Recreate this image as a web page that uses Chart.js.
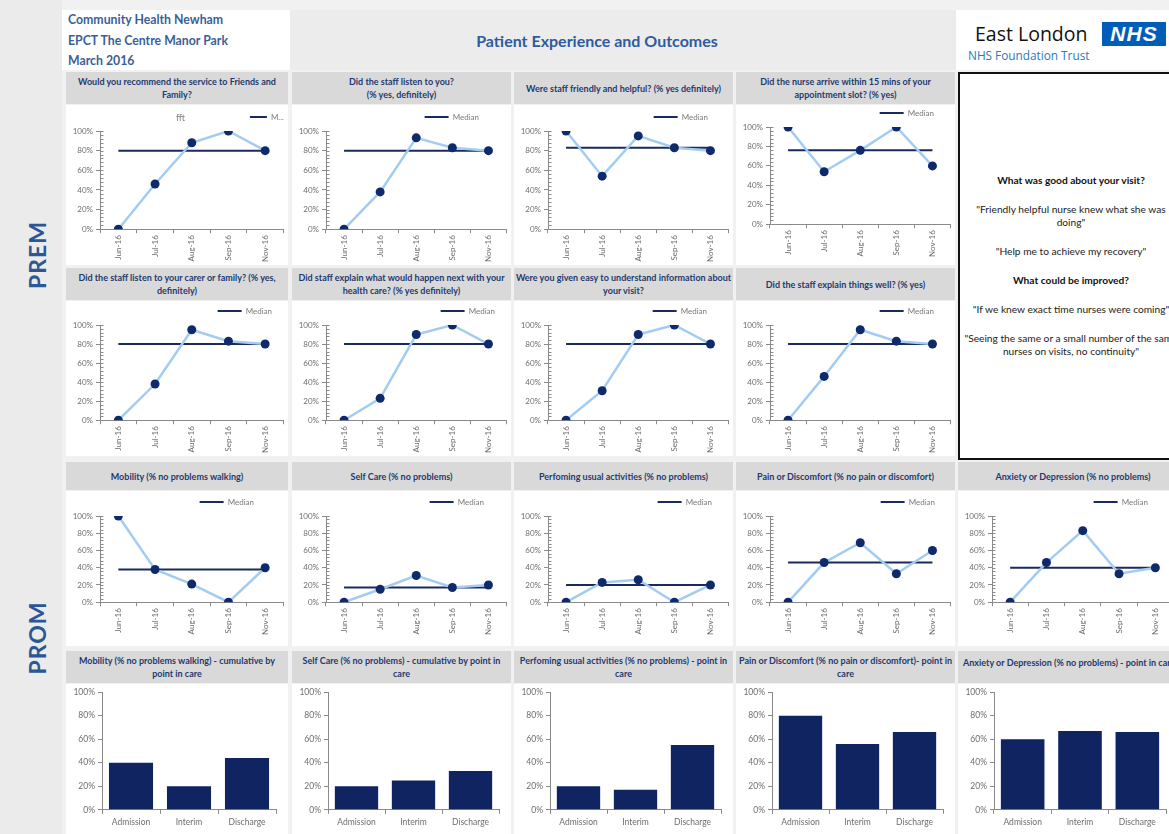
<!DOCTYPE html>
<html lang="en">
<head>
<meta charset="UTF-8">
<title>Patient Experience and Outcomes</title>
<script src="https://cdn.jsdelivr.net/npm/chart.js@4"></script>
<style>
    body {
        margin: 0;
        width: 1169px;
        height: 834px;
        overflow: hidden;
        position: relative;
        background: #f1f1f1;
        font-family: Lato, "Open Sans", sans-serif;
    }

    .abs { position: absolute; }

    .side {
        left: 0; top: 0; width: 62px; height: 834px;
        background: #ebebeb;
    }

    .side span {
        position: absolute;
        left: 37px;
        transform: translate(-50%, -50%) rotate(-90deg);
        color: #2b5797;
        font-weight: bold;
        font-size: 23px;
        letter-spacing: 1px;
    }

    .org {
        left: 62px; top: 10px; width: 228px; height: 60px;
        background: #fff;
        color: #3a5f98;
        font-weight: bold;
        font-size: 12.3px;
        line-height: 20.5px;
        padding-left: 6px;
        box-sizing: border-box;
    }

    .banner {
        left: 290px; top: 10px; width: 666px; height: 60px;
        background: #ececec;
        color: #2f5b9e;
        font-size: 16px;
        font-weight: bold;
        display: flex; align-items: center; justify-content: center;
        padding-right: 52px;
        box-sizing: border-box;
    }

    .logo {
        left: 956px; top: 10px; width: 213px; height: 60px;
        background: #fff;
    }

    .logo .name { position: absolute; left: 19px; top: 10px; font-size: 19.5px; color: #111; font-family: "Open Sans", sans-serif; }
    .logo .nhs {
        position: absolute; left: 146px; top: 12px; width: 64px; height: 24px;
        background: #005eb8; color: #fff;
        font: italic bold 21px "Liberation Sans", Arial, sans-serif;
        line-height: 24px; text-align: center; letter-spacing: 1px;
    }
    .logo .trust { position: absolute; left: 12px; top: 37px; font-size: 11.8px; color: #2a7ab8; font-family: "Open Sans", sans-serif; }

    .ttl {
        background: #d9d9d9;
        color: #1f3a6e;
        font-weight: bold;
        font-size: 9px;
        line-height: 13px;
        text-align: center;
        white-space: pre;
        display: flex; align-items: center; justify-content: center;
        overflow: hidden;
    }

    .plot { background: #fff; }

    .fft { color: #7f7f7f; font-size: 9px; }

    .notes {
        left: 958px; top: 72px; width: 226px; height: 388px;
        box-sizing: border-box;
        border: 2px solid #111;
        background: #fff;
        display: flex; flex-direction: column; justify-content: center; align-items: center;
        color: #222;
        font-size: 10.2px;
        line-height: 13px;
        text-align: center;
        white-space: pre;
    }
    .notes p { margin: 8px 0; }
    .notes b { color: #111; }
</style>
</head>
<body>

<div class="abs side"><span style="top:255px">PREM</span><span style="top:638px">PROM</span></div>

<div class="abs org">Community Health Newham<br>EPCT The Centre Manor Park<br>March 2016</div>
<div class="abs banner">Patient Experience and Outcomes</div>
<div class="abs logo">
    <div class="name">East London</div>
    <div class="nhs">NHS</div>
    <div class="trust">NHS Foundation Trust</div>
</div>

<div class="abs notes">
    <p><b>What was good about your visit?</b></p>
    <p>"Friendly helpful nurse knew what she was
doing"</p>
    <p>"Help me to achieve my recovery"</p>
    <p><b>What could be improved?</b></p>
    <p>"If we knew exact time nurses were coming"</p>
    <p>"Seeing the same or a small number of the same
nurses on visits, no continuity"</p>
</div>

<script>
    // months surveyed and points in care
    const months = ['Jun-16', 'Jul-16', 'Aug-16', 'Sep-16', 'Nov-16'];
    const carePoints = ['Admission', 'Interim', 'Discharge'];

    // PREM - monthly % and median
    const fftValues = [0, 46, 88, 100, 80];
    const fftMedian = [80, 80, 80, 80, 80];
    const listenValues = [0, 38, 93, 83, 80];
    const listenMedian = [80, 80, 80, 80, 80];
    const friendlyValues = [100, 54, 95, 83, 80];
    const friendlyMedian = [83, 83, 83, 83, 83];
    const arriveValues = [100, 54, 76, 100, 60];
    const arriveMedian = [76, 76, 76, 76, 76];
    const carerValues = [0, 38, 95, 83, 80];
    const carerMedian = [80, 80, 80, 80, 80];
    const nextValues = [0, 23, 90, 100, 80];
    const nextMedian = [80, 80, 80, 80, 80];
    const infoValues = [0, 31, 90, 100, 80];
    const infoMedian = [80, 80, 80, 80, 80];
    const explainValues = [0, 46, 95, 83, 80];
    const explainMedian = [80, 80, 80, 80, 80];

    // PROM - monthly % and median
    const mobilityValues = [100, 38, 21, 0, 40];
    const mobilityMedian = [38, 38, 38, 38, 38];
    const selfCareValues = [0, 15, 31, 17, 20];
    const selfCareMedian = [17, 17, 17, 17, 17];
    const activityValues = [0, 23, 26, 0, 20];
    const activityMedian = [20, 20, 20, 20, 20];
    const painValues = [0, 46, 69, 33, 60];
    const painMedian = [46, 46, 46, 46, 46];
    const anxietyValues = [0, 46, 83, 33, 40];
    const anxietyMedian = [40, 40, 40, 40, 40];

    // PROM - by point in care
    const mobilityCare = [40, 20, 44];
    const selfCareCare = [20, 25, 33];
    const activityCare = [20, 17, 55];
    const painCare = [80, 56, 66];
    const anxietyCare = [60, 67, 66];

    Chart.defaults.font.family = "Lato, 'Open Sans', sans-serif";
    Chart.defaults.font.size = 8;
    Chart.defaults.color = '#6e6e6e';
    Chart.defaults.animation = false;
    Chart.defaults.plugins.tooltip.enabled = false;

    const NAVY = '#0f2a6b';
    const MEDIAN = '#1b2a5e';
    const LIGHT = '#a3ccf3';
    const BAR = '#0f2461';
    const AXIS = '#8a8a8a';

    // panel grid
    const colX = [66, 292, 514, 736, 958];
    const colW = [222, 219, 219, 219, 220];
    const rowTitle = [[72, 32], [268, 32], [462, 28], [651, 32]];
    const rowChart = [[105, 160], [301, 155], [491, 155], [684, 150]];

    function panel(row, col, title, titleWidth, titleStyle) {
        const t = document.createElement('div');
        t.className = 'abs ttl';
        t.style.cssText = `left:${colX[col]}px;top:${rowTitle[row][0]}px;width:${titleWidth || colW[col]}px;height:${rowTitle[row][1]}px;${titleStyle || ''}`;
        t.textContent = title;
        document.body.appendChild(t);
        const box = document.createElement('div');
        box.className = 'abs plot';
        box.style.cssText = `left:${colX[col]}px;top:${rowChart[row][0]}px;width:${colW[col]}px;height:${rowChart[row][1]}px`;
        const c = document.createElement('canvas');
        box.appendChild(c);
        document.body.appendChild(box);
        return c;
    }

    // small inner ticks between the % gridlines
    const minorTicks = {
        id: 'minorTicks',
        beforeDatasetsDraw(chart, args, opts) {
            if (!opts.step) return;
            const y = chart.scales.y;
            const ctx = chart.ctx;
            const x0 = Math.round(y.right) + 0.5;
            ctx.save();
            ctx.strokeStyle = AXIS;
            ctx.lineWidth = 1;
            for (let v = y.min; v <= y.max; v += opts.step) {
                const py = Math.round(y.getPixelForValue(v)) + 0.5;
                ctx.beginPath();
                ctx.moveTo(x0, py);
                ctx.lineTo(x0 + 3, py);
                ctx.stroke();
            }
            ctx.restore();
        }
    };

    // pull the legend in from the right edge
    const legendShift = {
        id: 'legendShift',
        afterLayout(chart, args, opts) {
            if (chart.legend && opts.x) {
                chart.legend.left -= opts.x;
                chart.legend.right -= opts.x;
            }
        }
    };

    const pct = v => v + '%';

    function lineChart(canvas, values, median, o) {
        return new Chart(canvas, {
            type: 'line',
            data: {
                labels: months,
                datasets: [{
                    label: o.legend || 'Median',
                    data: median,
                    borderColor: MEDIAN,
                    borderWidth: 2,
                    pointRadius: 0,
                    pointStyle: 'line',
                    order: 1
                }, {
                    label: 'Value',
                    data: values,
                    borderColor: LIGHT,
                    borderWidth: 2.5,
                    pointRadius: 4.5,
                    pointBackgroundColor: NAVY,
                    pointBorderColor: NAVY,
                    pointBorderWidth: 0,
                    order: 0
                }]
            },
            options: {
                responsive: true,
                maintainAspectRatio: false,
                layout: { padding: { top: o.top, right: 3, left: 2, bottom: o.bottom } },
                plugins: {
                    legend: {
                        align: 'end',
                        labels: {
                            filter: item => item.datasetIndex === 0,
                            usePointStyle: true,
                            pointStyleWidth: o.lineW || 24,
                            boxHeight: 8,
                            padding: 4,
                            color: '#7a7a7a'
                        }
                    },
                    minorTicks: { step: 4 },
                    legendShift: { x: o.shift || 0 }
                },
                scales: {
                    x: {
                        offset: true,
                        grid: { offset: true, drawOnChartArea: false, tickLength: 4, color: AXIS },
                        border: { color: AXIS },
                        ticks: { minRotation: 90, maxRotation: 90, padding: 2 }
                    },
                    y: {
                        min: 0, max: 100,
                        ticks: { stepSize: 20, callback: pct, padding: 3 },
                        grid: { drawOnChartArea: false, tickLength: 4, color: AXIS },
                        border: { color: AXIS },
                        afterFit: s => { s.width = 32; }
                    }
                }
            },
            plugins: [minorTicks, legendShift]
        });
    }

    function barChart(canvas, values) {
        return new Chart(canvas, {
            type: 'bar',
            data: {
                labels: carePoints,
                datasets: [{
                    data: values,
                    backgroundColor: BAR,
                    categoryPercentage: 1,
                    barPercentage: 0.76
                }]
            },
            options: {
                responsive: true,
                maintainAspectRatio: false,
                layout: { padding: { top: 7, right: 12, left: 2, bottom: 4 } },
                plugins: { legend: { display: false } },
                scales: {
                    x: {
                        grid: { offset: true, drawOnChartArea: false, tickLength: 4, color: AXIS },
                        border: { color: AXIS },
                        ticks: { font: { size: 8.5 }, padding: 3 }
                    },
                    y: {
                        min: 0, max: 100,
                        ticks: { stepSize: 20, callback: pct, padding: 3, font: { size: 8.5 } },
                        grid: { drawOnChartArea: false, tickLength: 4, color: AXIS },
                        border: { color: AXIS },
                        afterFit: s => { s.width = 34; }
                    }
                }
            }
        });
    }

    // PREM row 1
    lineChart(panel(0, 0, 'Would you recommend the service to Friends and\nFamily?'),
        fftValues, fftMedian, { top: 4, bottom: 1, legend: 'M...', lineW: 17, shift: -3 });
    lineChart(panel(0, 1, 'Did the staff listen to you?\n(% yes, definitely)'),
        listenValues, listenMedian, { top: 4, bottom: 1, shift: 25 });
    lineChart(panel(0, 2, 'Were staff friendly and helpful? (% yes definitely)'),
        friendlyValues, friendlyMedian, { top: 4, bottom: 1, shift: 18 });
    lineChart(panel(0, 3, 'Did the nurse arrive within 15 mins of your\nappointment slot? (% yes)'),
        arriveValues, arriveMedian, { top: 0, bottom: 6, shift: 14 });

    // PREM row 2
    lineChart(panel(1, 0, 'Did the staff listen to your carer or family? (% yes,\ndefinitely)'),
        carerValues, carerMedian, { top: 2, bottom: 1, shift: 9 });
    lineChart(panel(1, 1, 'Did staff explain what would happen next with your\nhealth care? (% yes definitely)'),
        nextValues, nextMedian, { top: 2, bottom: 1, shift: 9 });
    lineChart(panel(1, 2, 'Were you given easy to understand information about\nyour visit?'),
        infoValues, infoMedian, { top: 2, bottom: 1, shift: 19 });
    lineChart(panel(1, 3, 'Did the staff explain things well? (% yes)'),
        explainValues, explainMedian, { top: 2, bottom: 1, shift: 14 });

    // PROM monthly
    lineChart(panel(2, 0, 'Mobility (% no problems walking)'),
        mobilityValues, mobilityMedian, { top: 3, bottom: 9, shift: 27 });
    lineChart(panel(2, 1, 'Self Care (% no problems)'),
        selfCareValues, selfCareMedian, { top: 3, bottom: 9, shift: 20 });
    lineChart(panel(2, 2, 'Perfoming usual activities (% no problems)'),
        activityValues, activityMedian, { top: 3, bottom: 9, shift: 14 });
    lineChart(panel(2, 3, 'Pain or Discomfort (% no pain or discomfort)'),
        painValues, painMedian, { top: 3, bottom: 9, shift: 13 });
    lineChart(panel(2, 4, 'Anxiety or Depression (% no problems)', 230),
        anxietyValues, anxietyMedian, { top: 3, bottom: 9, shift: 23 });

    // PROM by point in care
    barChart(panel(3, 0, 'Mobility (% no problems walking) - cumulative by\npoint in care'), mobilityCare);
    barChart(panel(3, 1, 'Self Care (% no problems) - cumulative by point in\ncare'), selfCareCare);
    barChart(panel(3, 2, 'Perfoming usual activities (% no problems) - point in\ncare'), activityCare);
    barChart(panel(3, 3, 'Pain or Discomfort (% no pain or discomfort)- point in\ncare'), painCare);
    barChart(panel(3, 4, 'Anxiety or Depression (% no problems) - point in care', 240,
        'justify-content:flex-start;padding-left:5px;align-items:flex-start;padding-top:5px;box-sizing:border-box'), anxietyCare);

    // chart title inside the first panel
    const fft = document.createElement('div');
    fft.className = 'abs fft';
    fft.style.cssText = 'left:176px;top:112px';
    fft.textContent = 'fft';
    document.body.appendChild(fft);
</script>
</body>
</html>
